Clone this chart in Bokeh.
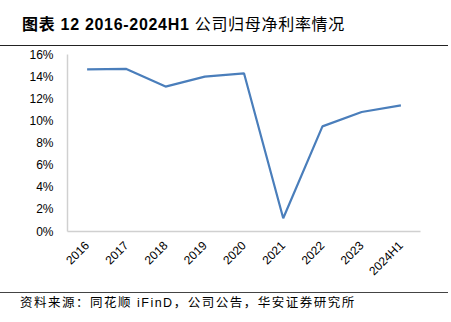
from bokeh.plotting import figure
from bokeh.models import Range1d, Div
from bokeh.layouts import column
from bokeh.embed import file_html
from bokeh.resources import INLINE
from math import pi

years = ["2016", "2017", "2018", "2019", "2020", "2021", "2022", "2023", "2024H1"]
net_margin = [14.65, 14.7, 13.1, 14.0, 14.3, 1.2, 9.5, 10.8, 11.4]
title_bold = "图表 12 2016-2024H1"
title_rest = "公司归母净利率情况"
source_text = "资料来源：同花顺 iFinD，公司公告，华安证券研究所"

font = "'Liberation Sans', 'Noto Sans CJK SC', sans-serif"

title_div = Div(text=f"<b>{title_bold}</b> {title_rest}", width=448, height=46,
                margin=(0, 3, 0, 0),
                styles={"font-family": font, "font-size": "16px",
                        "color": "#000000", "border-bottom": "1px solid #222222",
                        "box-sizing": "border-box", "padding-left": "22px",
                        "padding-top": "14px", "line-height": "22px",
                        "letter-spacing": "0.7px", "white-space": "nowrap"})

p = figure(x_range=years, width=451, height=246, output_backend="svg",
           toolbar_location=None, min_border_left=67, min_border_right=31,
           min_border_top=8, min_border_bottom=61, margin=(0, 0, 0, 0))
p.y_range = Range1d(0, 16)
p.line(x=years, y=net_margin, line_color="#4a7ebb", line_width=2.2)

p.xgrid.visible = False
p.ygrid.visible = False
p.outline_line_color = None
for ax in (p.xaxis[0], p.yaxis[0]):
    ax.axis_line_color = "#d0d0d0"
    ax.axis_line_width = 1.5
    ax.major_tick_line_color = None
    ax.minor_tick_line_color = None
    ax.major_label_text_font = "Liberation Sans"
    ax.major_label_text_font_size = "12px"
    ax.major_label_text_color = "#000000"
p.yaxis.ticker = [0, 2, 4, 6, 8, 10, 12, 14, 16]
p.yaxis.major_label_overrides = {v: f"{v}%" for v in range(0, 17, 2)}
p.yaxis.major_label_standoff = 8
p.xaxis.major_label_orientation = pi / 4
p.xaxis.major_label_standoff = 6

source_div = Div(text=source_text, width=448, height=29, margin=(0, 3, 0, 0),
                 styles={"font-family": font, "font-size": "12.5px", "color": "#000000",
                         "border-top": "1px solid #444444", "box-sizing": "border-box",
                         "padding-left": "20px", "padding-top": "2px",
                         "line-height": "16px", "letter-spacing": "1.5px",
                         "white-space": "nowrap"})

layout = column(title_div, p, source_div, spacing=0, margin=(0, 0, 0, 0))
open("out.html", "w").write(file_html(layout, INLINE))
